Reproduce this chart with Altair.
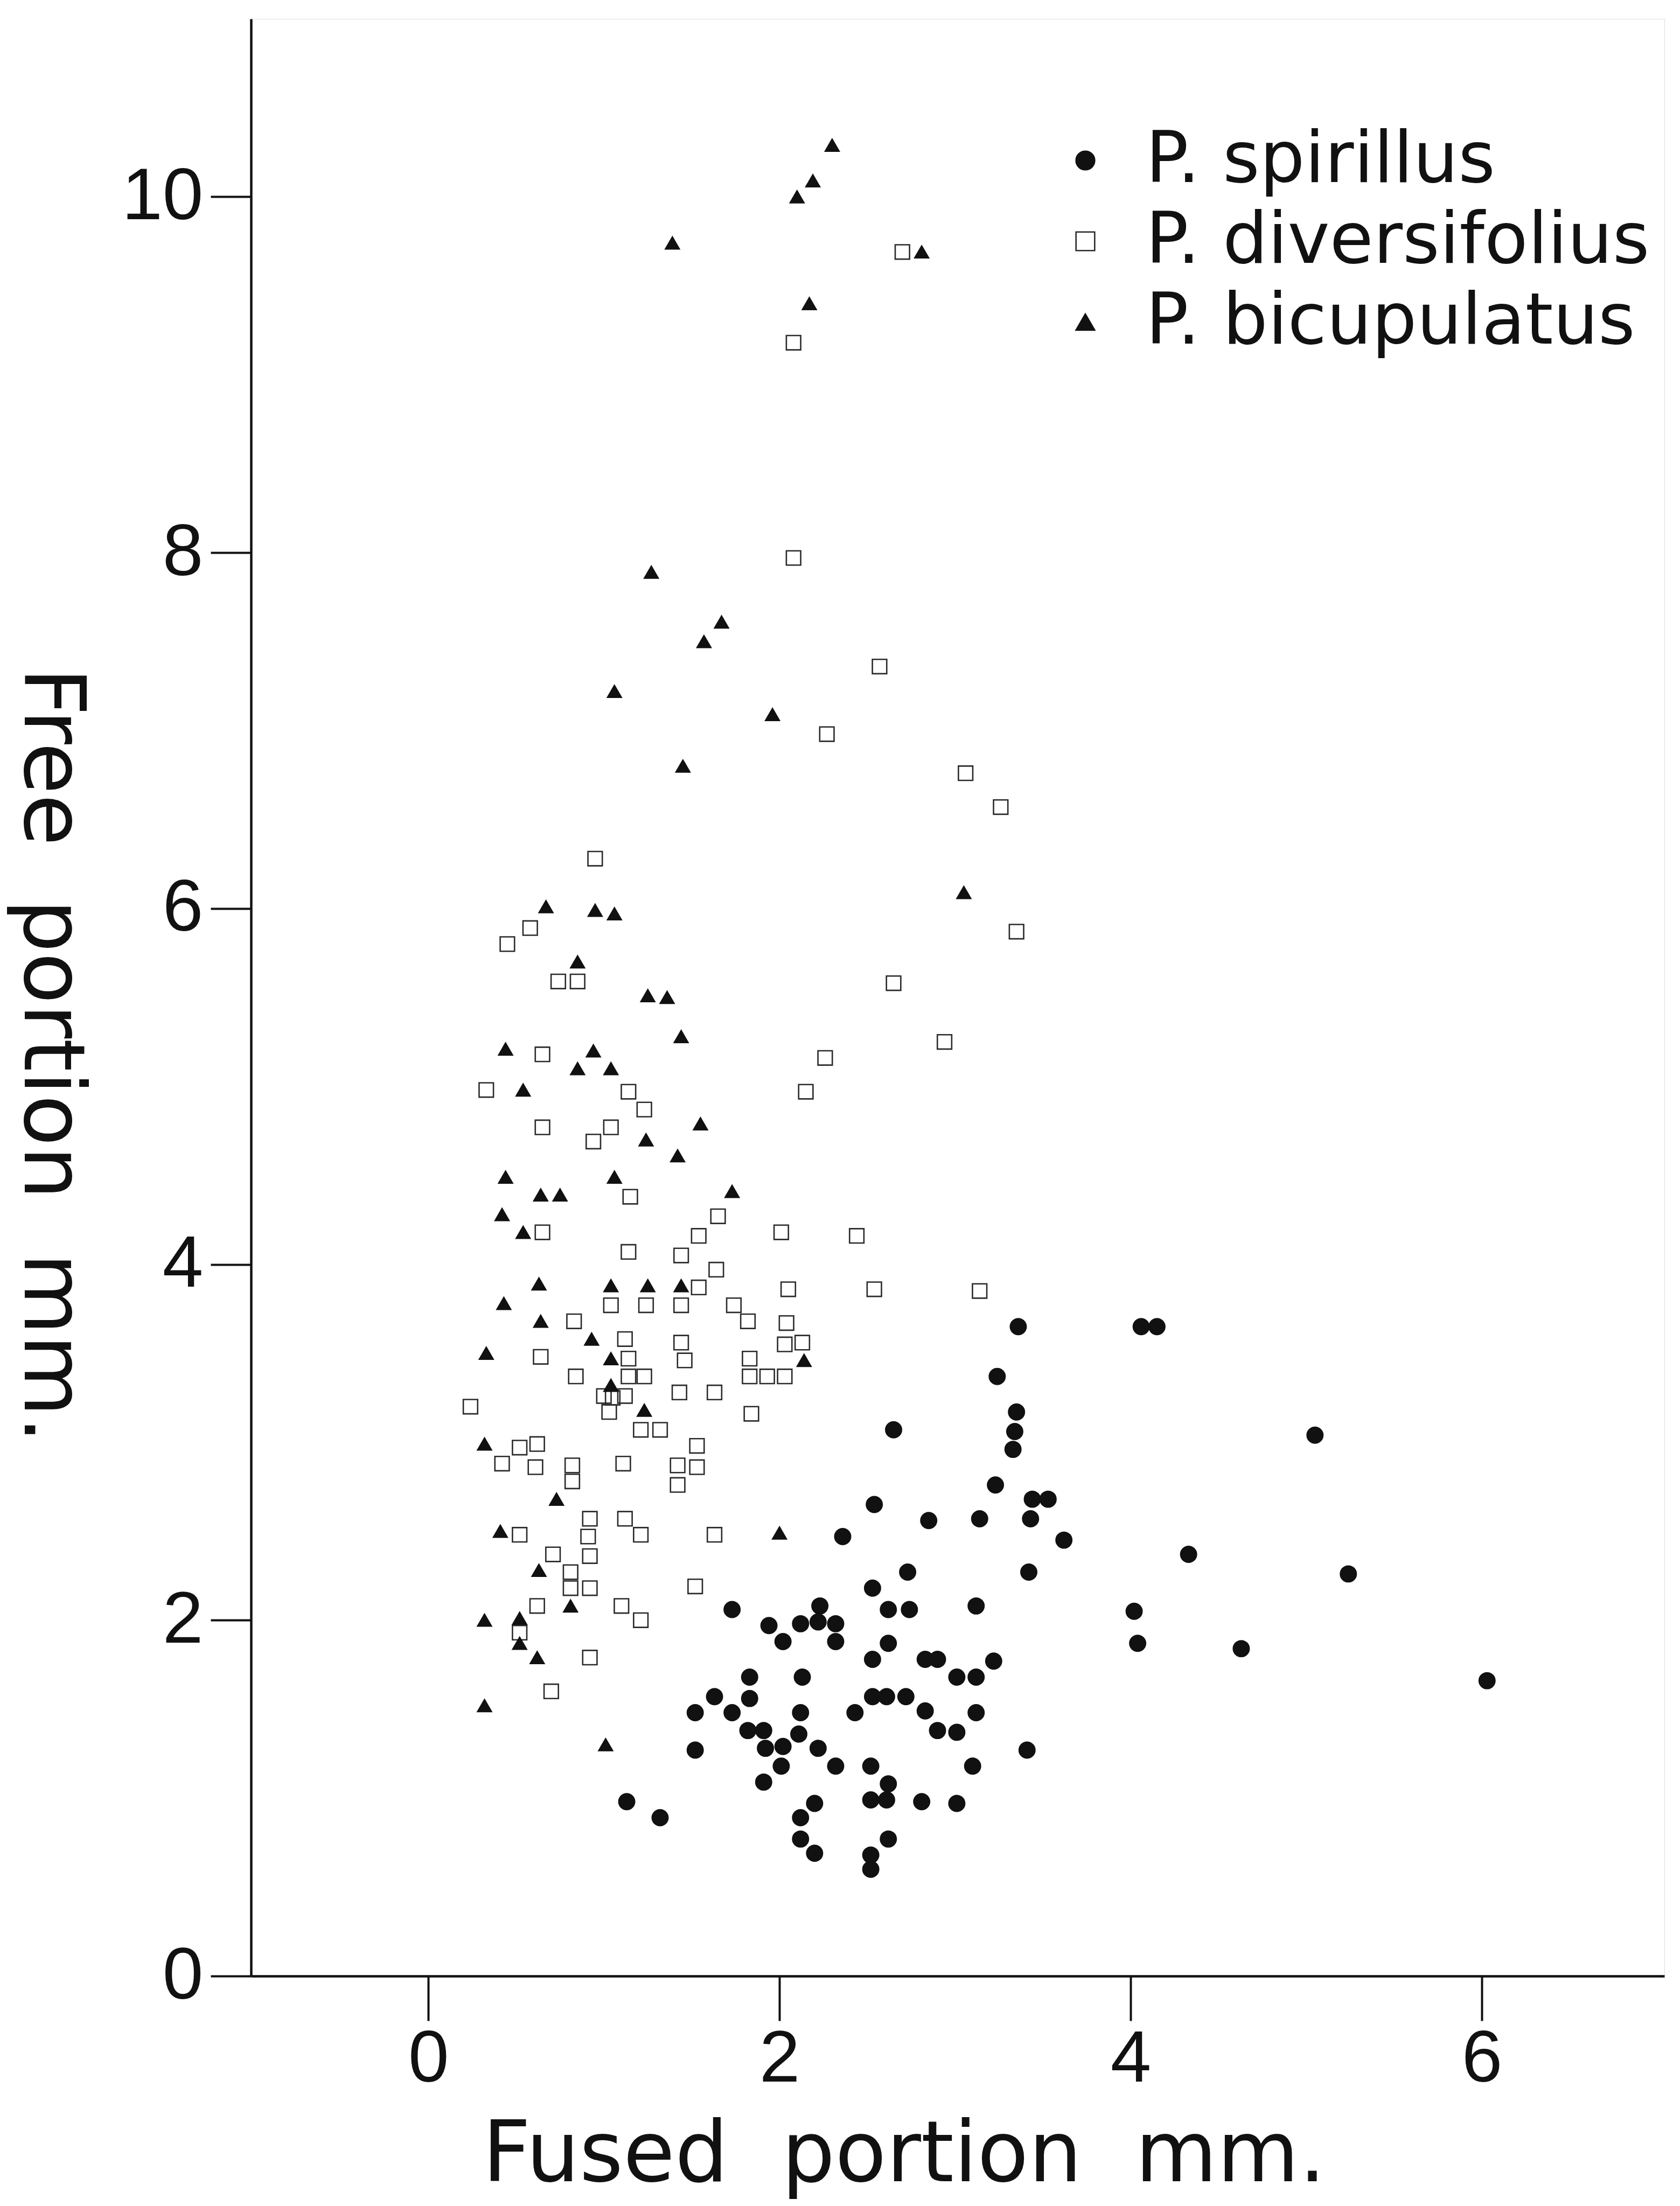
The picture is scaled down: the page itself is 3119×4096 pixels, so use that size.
import altair as alt
import pandas as pd

species_names = ["P. spirillus", "P. diversifolius", "P. bicupulatus"]

# P. spirillus (filled circles)
spirillus_x = [3.36, 3.24, 3.35, 3.34, 3.33, 2.65, 3.23, 3.44, 3.53, 3.43, 2.54, 2.85, 3.14, 2.36, 3.62,
               2.73, 3.42, 2.53, 2.23, 2.62, 2.74, 3.12, 2.12, 2.22, 2.32, 2.32, 2.62, 2.53, 2.83, 2.90,
               3.22, 3.01, 3.12, 2.13, 2.53, 2.61, 2.72, 2.12, 2.43, 2.83, 3.12, 2.11, 2.90, 3.01, 2.22,
               3.41, 2.32, 2.52, 3.10, 2.62, 2.52, 2.61, 2.81, 3.01, 2.20, 2.12, 2.12, 2.20, 2.62, 2.52,
               2.52,
               1.73, 1.94, 2.02, 1.83, 1.63, 1.83, 1.52, 1.73, 1.82, 1.91, 1.92, 2.02, 1.52, 2.01, 1.91,
               1.13, 1.32,
               4.06, 4.15, 5.05, 4.33, 5.24, 4.02, 4.04, 4.63, 6.03]
spirillus_y = [3.65, 3.37, 3.17, 3.06, 2.96, 3.07, 2.76, 2.68, 2.68, 2.57, 2.65, 2.56, 2.57, 2.47, 2.45,
               2.27, 2.27, 2.18, 2.08, 2.06, 2.06, 2.08, 1.98, 1.99, 1.98, 1.88, 1.87, 1.78, 1.78, 1.78,
               1.77, 1.68, 1.68, 1.68, 1.57, 1.57, 1.57, 1.48, 1.48, 1.49, 1.48, 1.36, 1.38, 1.37, 1.28,
               1.27, 1.18, 1.18, 1.18, 1.08, 0.99, 0.99, 0.98, 0.97, 0.97, 0.89, 0.77, 0.69, 0.77, 0.68,
               0.60,
               2.06, 1.97, 1.88, 1.68, 1.57, 1.56, 1.48, 1.48, 1.38, 1.38, 1.28, 1.29, 1.27, 1.18, 1.09,
               0.98, 0.89,
               3.65, 3.65, 3.04, 2.37, 2.26, 2.05, 1.87, 1.84, 1.66]

# P. diversifolius (open squares)
diversifolius_x = [2.70, 2.08, 2.08,
                   2.57, 2.27, 3.06, 3.26, 0.95, 0.58, 3.35, 0.45, 2.65,
                   0.74, 0.85, 0.65, 0.33, 1.14, 1.23, 0.65, 1.04, 0.94, 1.15, 1.65, 0.65, 1.54, 2.01,
                   1.14, 1.44, 1.64,
                   2.94, 2.26, 2.15, 2.44,
                   2.05, 2.54, 3.14, 2.04, 2.03, 2.13,
                   1.54, 1.04, 1.24, 1.44, 1.74, 1.82, 0.83, 1.12, 1.44, 0.64, 1.14, 1.46, 1.83, 0.84,
                   1.14, 1.23, 1.83, 1.93, 2.03, 1.00, 1.05, 1.12, 1.43, 1.63, 0.24, 1.03, 1.84, 1.21,
                   1.32, 0.52, 0.62, 1.53, 0.42, 0.61, 0.82, 0.82, 1.11, 1.42, 1.53, 1.42, 0.92, 1.12,
                   0.52, 0.91, 1.21, 1.63, 0.71, 0.92, 0.81,
                   1.52, 0.81, 0.92, 0.62, 1.10, 1.21, 0.52, 0.92, 0.70]
diversifolius_y = [9.69, 9.18, 7.97,
                   7.36, 6.98, 6.76, 6.57, 6.28, 5.89, 5.87, 5.80, 5.58,
                   5.59, 5.59, 5.18, 4.98, 4.97, 4.87, 4.77, 4.77, 4.69, 4.38, 4.27, 4.18, 4.16, 4.18,
                   4.07, 4.05, 3.97,
                   5.25, 5.16, 4.97, 4.16,
                   3.86, 3.86, 3.85, 3.67, 3.55, 3.56,
                   3.87, 3.77, 3.77, 3.77, 3.77, 3.68, 3.68, 3.58, 3.56, 3.48, 3.47, 3.46, 3.47, 3.37,
                   3.37, 3.37, 3.37, 3.37, 3.37, 3.26, 3.25, 3.26, 3.28, 3.28, 3.20, 3.17, 3.16, 3.07,
                   3.07, 2.97, 2.99, 2.98, 2.88, 2.86, 2.87, 2.78, 2.88, 2.87, 2.86, 2.76, 2.57, 2.57,
                   2.48, 2.47, 2.48, 2.48, 2.37, 2.36, 2.27,
                   2.19, 2.18, 2.18, 2.08, 2.08, 2.00, 1.93, 1.79, 1.60]

# P. bicupulatus (filled triangles)
bicupulatus_x = [2.30, 2.19, 2.10, 1.39, 2.81, 2.17, 1.27,
                 1.67, 1.57, 1.06, 1.96, 1.45, 3.05, 0.67, 0.95, 1.06, 0.85,
                 1.25, 1.36, 1.44, 0.44, 0.94, 0.85, 1.04, 0.54, 1.55, 1.24, 1.42, 0.44, 1.06, 1.73,
                 0.64, 0.75, 0.42, 0.54,
                 0.63, 1.04, 1.25, 1.44, 0.43, 0.64, 0.93, 0.33, 1.04, 1.04, 1.23, 0.32, 0.73, 0.41,
                 2.00, 0.63,
                 2.14,
                 0.81, 0.32, 0.52, 0.52, 0.62, 0.32, 1.01]
bicupulatus_y = [10.29, 10.09, 10.00, 9.74, 9.69, 9.40, 7.89,
                 7.61, 7.50, 7.22, 7.09, 6.80, 6.09, 6.01, 5.99, 5.97, 5.70,
                 5.51, 5.50, 5.28, 5.21, 5.20, 5.10, 5.10, 4.98, 4.79, 4.70, 4.61, 4.49, 4.49, 4.41,
                 4.39, 4.39, 4.28, 4.18,
                 3.89, 3.88, 3.88, 3.88, 3.78, 3.68, 3.58, 3.50, 3.47, 3.32, 3.18, 2.99, 2.68, 2.50,
                 2.49, 2.28,
                 3.46,
                 2.08, 2.00, 2.01, 1.87, 1.79, 1.52, 1.30]

x_ticks = [0, 2, 4, 6]
y_ticks = [0, 2, 4, 6, 8, 10]

rows = []
for name, xs, ys in [(species_names[0], spirillus_x, spirillus_y),
                     (species_names[1], diversifolius_x, diversifolius_y),
                     (species_names[2], bicupulatus_x, bicupulatus_y)]:
    for xv, yv in zip(xs, ys):
        rows.append({"species": name, "fused": xv, "free": yv})
df = pd.DataFrame(rows)

ink = "#111111"

leg = alt.Legend(
    title=None, orient="none", legendX=1483, legendY=197, padding=0,
    direction="vertical",
    labelFont="DejaVu Sans", labelFontSize=132, labelColor=ink, labelLimit=3000,
    labelOffset=46, rowPadding=18, symbolSize=1200, symbolStrokeWidth=2.6,
)

x_enc = alt.X("fused:Q",
              scale=alt.Scale(domain=[-1.01, 7.04], nice=False, zero=False),
              axis=alt.Axis(
                  values=x_ticks, format="d", grid=False,
                  title="Fused\u00a0\u00a0portion\u00a0\u00a0mm.",
                  titleFont="DejaVu Sans", titleFontSize=156, titleFontWeight="normal",
                  titleColor=ink, titleX=1212, titleY=380, titleBaseline="alphabetic",
                  titleAlign="center",
                  labelFont="Liberation Sans", labelFontSize=136, labelColor=ink,
                  labelPadding=5, labelFlush=False, labelLimit=0,
                  tickSize=83, tickWidth=4, tickColor=ink,
                  domainColor=ink, domainWidth=4.5,
              ))
y_enc = alt.Y("free:Q",
              scale=alt.Scale(domain=[0, 11], nice=False, zero=False),
              axis=alt.Axis(
                  values=y_ticks, format="d", grid=False,
                  title="Free\u00a0\u00a0portion\u00a0\u00a0mm.",
                  titleFont="DejaVu Sans", titleFontSize=156, titleFontWeight="normal",
                  titleColor=ink, titleAngle=90, titleX=-421, titleY=1924,
                  titleBaseline="alphabetic", titleAlign="center",
                  labelFont="Liberation Sans", labelFontSize=136, labelColor=ink,
                  labelPadding=14, labelFlush=False, labelLimit=0,
                  tickSize=75, tickWidth=4, tickColor=ink,
                  domainColor=ink, domainWidth=4.5,
              ))
shape_enc = alt.Shape("species:N",
                      scale=alt.Scale(domain=species_names, range=["circle", "square", "triangle-up"]),
                      legend=leg)
fill_enc = alt.Fill("species:N",
                    scale=alt.Scale(domain=species_names, range=[ink, "transparent", ink]),
                    legend=leg)
stroke_enc = alt.Stroke("species:N",
                        scale=alt.Scale(domain=species_names, range=[ink, "#2b2b2b", ink]),
                        legend=leg)

marker_sizes = [860, 710, 650]

base = alt.Chart(df).encode(x=x_enc, y=y_enc, shape=shape_enc, fill=fill_enc, stroke=stroke_enc)

layers = [
    base.transform_filter(alt.datum.species == name).mark_point(
        size=s, opacity=1, fillOpacity=1, strokeOpacity=1, strokeWidth=2.6
    )
    for name, s in zip(species_names, marker_sizes)
]

chart = alt.layer(*layers).properties(
    width=2624, height=3634,
    padding={"left": 458, "top": 27, "right": 15, "bottom": 418},
    autosize=alt.AutoSizeParams(type="none"),
).configure_view(stroke=None).configure(background="white")

chart.save("out.html", embed_options={"renderer": "svg", "actions": False})
